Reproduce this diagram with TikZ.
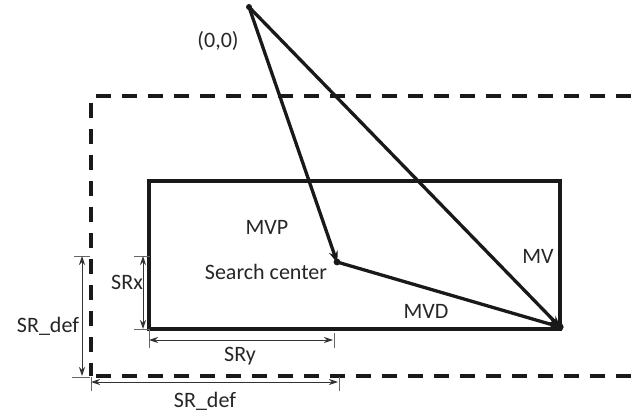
\documentclass[tikz,border=0pt]{standalone}
\usepackage{fontspec}
\setmainfont{Carlito}
\usetikzlibrary{arrows.meta}
\begin{document}
\begin{tikzpicture}[x=1pt,y=-1pt,
  main/.style={line width=3.3pt,draw=black!90},
  vec/.style={main,-{Stealth[length=12pt,width=9pt]},shorten >=-1pt},
  dashbox/.style={line width=4pt,draw=black!90,dash pattern=on 15pt off 11pt},
  dim/.style={line width=1pt,draw=black!80,{Stealth[length=9pt,width=6pt]}-{Stealth[length=9pt,width=6pt]}},
  tick/.style={line width=0.8pt,draw=black!60},
  lbl/.style={font=\fontsize{22}{26}\selectfont,text=black!85,inner sep=0pt}]
\useasboundingbox (0,0) rectangle (636,419);
% dashed default search range
\draw[dashbox] (96,96) -- (636,96);
\draw[dashbox] (91,103) -- (91,376);
\draw[dashbox] (96,376) -- (636,376);
% search range
\draw[main] (149,181) rectangle (560,329);
% points
\coordinate (O) at (249,7);
\coordinate (C) at (337,262);
\coordinate (E) at (560,327);
\fill[black!90] (O) circle (3pt);
\fill[black!90] (C) circle (3.4pt);
\fill[black!90] (E) circle (3.6pt);
% vectors
\draw[vec] (O) -- (C);
\draw[vec] (O) -- (E);
\draw[vec] (C) -- (E);
% labels
\node[lbl] (l00) at (218,41) {(0,0)};
\node[lbl] (lmvp) at (267,227) {MVP};
\node[lbl] (lsc) at (266,272) {Search center};
\node[lbl] (lmv) at (538,256) {MV};
\node[lbl] (lmvd) at (426,311) {MVD};
\node[lbl] (lsrx) at (127,282) {SRx};
\node[lbl] (lsry) at (240,356) {SRy};
\node[lbl] (lsrd1) at (48,326) {SR\_def};
\node[lbl] (lsrd2) at (205,401) {SR\_def};
% dimension lines: SRx
\coordinate (xa) at (143,256);
\coordinate (xb) at (143,329);
\draw[tick] (134,256) -- (150,256);
\draw[tick] (134,329) -- (150,329);
\draw[dim] (xa) -- (xb);
% SR_def vertical
\coordinate (da) at (82,256);
\coordinate (db) at (82,376);
\draw[tick] (74,256) -- (90,256);
\draw[tick] (72,377) -- (90,377);
\draw[dim] (da) -- (db);
% SRy
\coordinate (ya) at (149,340);
\coordinate (yb) at (333,340);
\draw[tick] (149,330) -- (149,348);
\draw[tick] (334,333) -- (334,348);
\draw[dim] (ya) -- (yb);
% SR_def horizontal
\coordinate (ha) at (91,382);
\coordinate (hb) at (338,382);
\draw[tick] (91,377) -- (91,391);
\draw[tick] (339,377) -- (339,391);
\draw[dim] (ha) -- (hb);
\end{tikzpicture}
\end{document}
